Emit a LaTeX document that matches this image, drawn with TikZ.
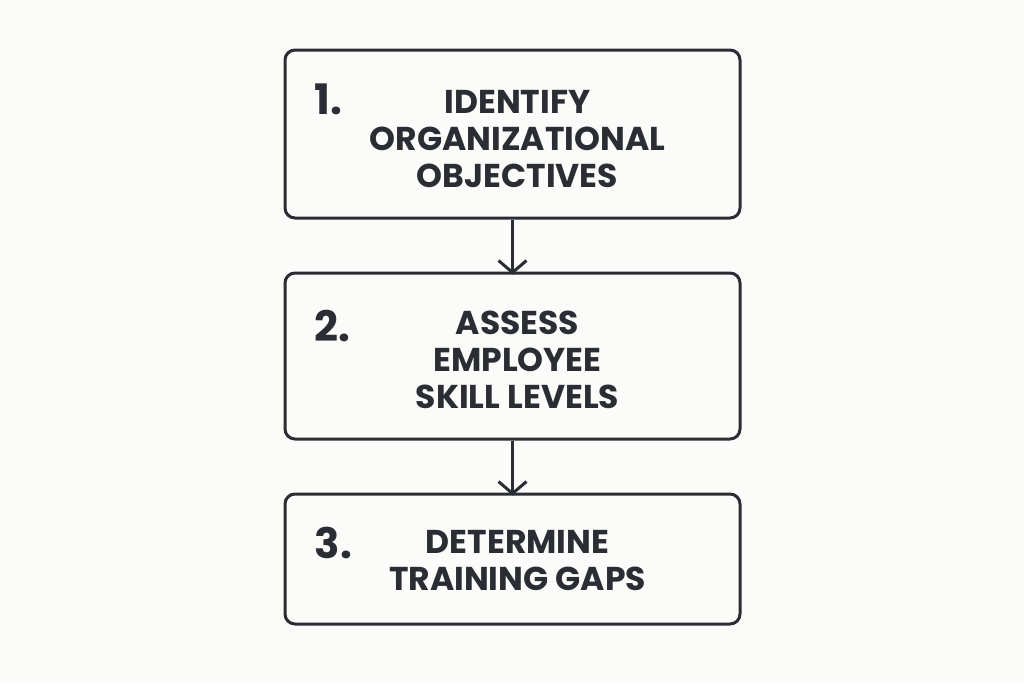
\documentclass[tikz,border=0pt]{standalone}
\usepackage{fontspec}
\setmainfont{Poppins}
\usetikzlibrary{positioning,arrows.meta}
\definecolor{ink}{HTML}{2A2D33}
\definecolor{paper}{HTML}{FBFBFA}
\tikzset{
  stepbox/.style = {draw=ink, line width=3pt, rounded corners=10pt,
                    minimum width=455pt, inner sep=0pt},
  steptext/.style = {text=ink, align=center, inner sep=0pt,
                     font=\fontsize{33}{37}\selectfont\bfseries},
  stepnum/.style = {text=ink, anchor=west, inner sep=0pt,
                    font=\fontsize{42}{44}\selectfont\bfseries},
  flow/.style = {draw=ink, line width=3pt,
                 -{Straight Barb[length=12pt, width=28pt, line width=3pt]}}
}
\begin{document}
\begin{tikzpicture}[x=1pt, y=-1pt]
  \fill[paper] (0,0) rectangle (1024,683);
  \useasboundingbox (0,0) rectangle (1024,683);
  % the three steps
  \node[stepbox, minimum height=168pt] (identify) at (512.5,134) {};
  \node[stepbox, minimum height=166pt, below=52pt of identify] (assess) {};
  \node[stepbox, minimum height=130pt, below=52pt of assess] (gaps) {};
  % numbers
  \node[stepnum] (n1) at ([xshift=31pt, yshift=-51pt]identify.north west) {1.};
  \node[stepnum] (n2) at ([xshift=31pt, yshift=-54pt]assess.north west) {2.};
  \node[stepnum] (n3) at ([xshift=31pt, yshift=-50pt]gaps.north west) {3.};
  % texts
  \node[steptext] (t1) at ([xshift=5pt, yshift=-5pt]identify.center)
    {IDENTIFY\\ORGANIZATIONAL\\OBJECTIVES};
  \node[steptext] (t2) at ([xshift=5pt, yshift=-4pt]assess.center)
    {ASSESS\\EMPLOYEE\\SKILL LEVELS};
  \node[steptext] (t3) at ([xshift=5pt, yshift=-2pt]gaps.center)
    {DETERMINE\\TRAINING GAPS};
  % arrows
  \draw[flow] (identify.south) -- ([yshift=-3pt]assess.north);
  \draw[flow] (assess.south) -- ([yshift=-3pt]gaps.north);
\end{tikzpicture}
\end{document}
